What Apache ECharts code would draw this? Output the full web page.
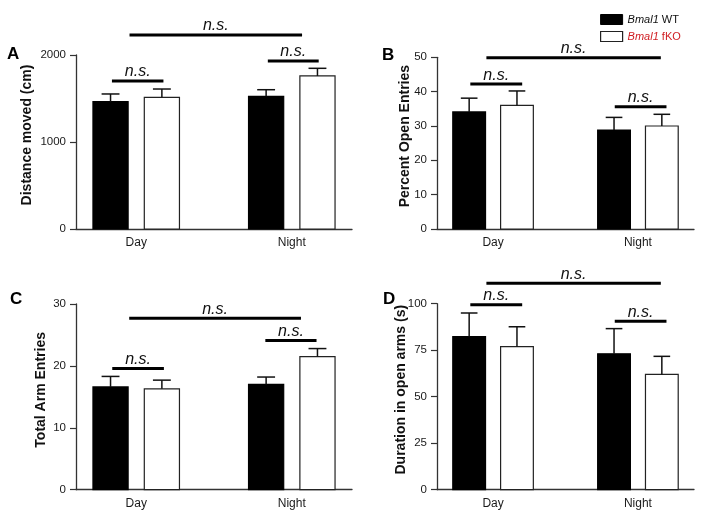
<!DOCTYPE html>
<html>
<head>
<meta charset="utf-8">
<script src="https://cdn.jsdelivr.net/npm/echarts@6/dist/echarts.min.js"></script>
<style>html,body{margin:0;padding:0;background:#fff}#c{width:704px;height:519px}</style>
</head>
<body>
<div id="c"></div>
<script>
// ---------- data ----------
const categories = ['Day', 'Night'];
const seriesNames = ['Bmal1 WT', 'Bmal1 fKO'];
const panelLetters = ['A', 'B', 'C', 'D'];
const axisNames = ['Distance moved (cm)', 'Percent Open Entries', 'Total Arm Entries', 'Duration in open arms (s)'];
const yMax = [2000, 50, 30, 100];
const yInterval = [1000, 10, 10, 25];

const distWT = [1463, 1525], distWTErr = [89, 76];
const distKO = [1514, 1759], distKOErr = [95, 88];
const pctWT = [34.1, 28.8], pctWTErr = [4.0, 3.7];
const pctKO = [36.0, 30.0], pctKOErr = [4.2, 3.4];
const armWT = [16.6, 17.0], armWTErr = [1.7, 1.2];
const armKO = [16.3, 21.5], armKOErr = [1.4, 1.3];
const durWT = [82.3, 73.1], durWTErr = [12.7, 13.5];
const durKO = [76.9, 62.0], durKOErr = [10.7, 9.7];

// significance brackets: [x start, x end, y level] in axis units
const distBrackets = [[-0.156, 0.175, 1701], [0.846, 1.173, 1931], [-0.043, 1.066, 2230]];
const pctBrackets = [[-0.157, 0.201, 42.2], [0.84, 1.197, 35.6], [-0.046, 1.158, 49.9]];
const armBrackets = [[-0.154, 0.178, 19.6], [0.83, 1.159, 24.1], [-0.045, 1.059, 27.7]];
const durBrackets = [[-0.157, 0.201, 99.5], [0.84, 1.197, 90.5], [-0.046, 1.158, 111]];
const bracketLabel = 'n.s.';

const panels = [
  {wt: distWT, wtErr: distWTErr, ko: distKO, koErr: distKOErr, br: distBrackets},
  {wt: pctWT, wtErr: pctWTErr, ko: pctKO, koErr: pctKOErr, br: pctBrackets},
  {wt: armWT, wtErr: armWTErr, ko: armKO, koErr: armKOErr, br: armBrackets},
  {wt: durWT, wtErr: durWTErr, ko: durKO, koErr: durKOErr, br: durBrackets}
];

// ---------- layout / style ----------
const FONT = 'Liberation Sans, Arial, Helvetica, sans-serif';
const grids = [
  {left: 76, top: 55, width: 276, height: 174},
  {left: 437, top: 57.3, width: 257, height: 171.7},
  {left: 76, top: 304, width: 276, height: 185.7},
  {left: 437, top: 303.7, width: 257, height: 186}
];
const nameGaps = [42, 25, 28, 29];
const letterPos = [[7, 46], [382, 47], [10, 291], [383, 291]];
const X_MIN = -0.387, X_MAX = 1.387;
const BAR_W = 0.226, BAR_OFF = 0.165, CAP_W = 0.115;
const RED = '#d01f24';

const chart = echarts.init(document.getElementById('c'), null, {renderer: 'canvas'});

const option = {
  backgroundColor: '#fff',
  animation: false,
  textStyle: {fontFamily: FONT},
  title: panelLetters.map((t, i) => ({
    text: t, left: letterPos[i][0], top: letterPos[i][1], padding: 0,
    textStyle: {fontSize: 17, fontWeight: 'bold', color: '#000', fontFamily: FONT}
  })),
  legend: {
    orient: 'vertical', left: 595, top: 8, itemWidth: 22, itemHeight: 10, itemGap: 4,
    icon: 'rect',
    data: [
      {name: seriesNames[0], itemStyle: {color: '#000', borderColor: '#000', borderWidth: 1}},
      {name: seriesNames[1], itemStyle: {color: '#fff', borderColor: '#222', borderWidth: 1.2}}
    ],
    formatter: n => n === seriesNames[0] ? '{i|Bmal1} WT' : '{ri|Bmal1}{r| fKO}',
    textStyle: {
      fontSize: 11, color: '#111', fontFamily: FONT, lineHeight: 13,
      rich: {
        i: {fontStyle: 'italic', fontSize: 11, color: '#111', fontFamily: FONT},
        ri: {fontStyle: 'italic', fontSize: 11, color: RED, fontFamily: FONT},
        r: {fontSize: 11, color: RED, fontFamily: FONT}
      }
    }
  },
  grid: grids.map(g => Object.assign({containLabel: false}, g)),
  xAxis: grids.map((g, i) => ({
    type: 'value', gridIndex: i, min: X_MIN, max: X_MAX,
    splitLine: {show: false},
    axisLine: {show: true, onZero: false, lineStyle: {color: '#333', width: 1.3}},
    axisTick: {show: false},
    axisLabel: {
      customValues: [0, 1],
      formatter: v => categories[Math.round(v)] || '',
      fontSize: 12, color: '#1a1a1a', margin: 8, fontFamily: FONT
    }
  })),
  yAxis: grids.map((g, i) => ({
    type: 'value', gridIndex: i, min: 0, max: yMax[i], interval: yInterval[i],
    name: axisNames[i], nameLocation: 'middle', nameGap: nameGaps[i], nameMoveOverlap: false,
    nameTextStyle: {fontSize: 14, fontWeight: 'bold', color: '#111', fontFamily: FONT, padding: [0, 0, 0, 14]},
    splitLine: {show: false},
    axisLine: {show: true, onZero: false, lineStyle: {color: '#333', width: 1.3}},
    axisTick: {show: true, length: 6, lineStyle: {color: '#333', width: 1.2}},
    axisLabel: {fontSize: 11.5, color: '#1a1a1a', margin: 10, fontFamily: FONT, formatter: v => String(v)}
  })),
  series: []
};

function barSeries(name, idx, values, offset, fill) {
  return {
    type: 'custom', name: name, xAxisIndex: idx, yAxisIndex: idx, clip: false,
    itemStyle: {color: fill, borderColor: '#000', borderWidth: 1},
    encode: {x: 0, y: 1},
    data: values.map((v, i) => [i, v]),
    renderItem: function (params, api) {
      const x = api.value(0) + offset;
      const p0 = api.coord([x - BAR_W / 2, 0]);
      const p1 = api.coord([x + BAR_W / 2, api.value(1)]);
      return {
        type: 'rect',
        shape: {x: p0[0], y: p1[1], width: p1[0] - p0[0], height: p0[1] - p1[1]},
        style: {fill: fill, stroke: fill === '#000' ? '#000' : '#222', lineWidth: 1.2}
      };
    }
  };
}

function errSeries(idx, values, errs, offset) {
  return {
    type: 'custom', xAxisIndex: idx, yAxisIndex: idx, clip: false, silent: true,
    encode: {x: 0, y: [1, 2]},
    data: values.map((v, i) => [i, v, v + errs[i]]),
    z: 3,
    renderItem: function (params, api) {
      const x = api.value(0) + offset;
      const b = api.coord([x, api.value(1)]);
      const t = api.coord([x, api.value(2)]);
      const cl = api.coord([x - CAP_W / 2, api.value(2)]);
      const cr = api.coord([x + CAP_W / 2, api.value(2)]);
      const st = {stroke: '#111', lineWidth: 1.5};
      return {
        type: 'group',
        children: [
          {type: 'line', shape: {x1: b[0], y1: b[1], x2: t[0], y2: t[1]}, style: st},
          {type: 'line', shape: {x1: cl[0], y1: cl[1], x2: cr[0], y2: cr[1]}, style: st}
        ]
      };
    }
  };
}

function bracketSeries(idx, br) {
  return {
    type: 'custom', xAxisIndex: idx, yAxisIndex: idx, clip: false, silent: true,
    encode: {x: [0, 1], y: 2},
    data: br,
    z: 4,
    renderItem: function (params, api) {
      const a = api.coord([api.value(0), api.value(2)]);
      const b = api.coord([api.value(1), api.value(2)]);
      return {
        type: 'group',
        children: [
          {type: 'line', shape: {x1: a[0], y1: a[1], x2: b[0], y2: b[1]}, style: {stroke: '#000', lineWidth: 3}},
          {type: 'text', x: (a[0] + b[0]) / 2, y: a[1] - 1,
           style: {text: bracketLabel, fill: '#111', font: 'italic 16px ' + FONT, textAlign: 'center', textVerticalAlign: 'bottom'}}
        ]
      };
    }
  };
}

panels.forEach((p, i) => {
  option.series.push(barSeries(seriesNames[0], i, p.wt, -BAR_OFF, '#000'));
  option.series.push(barSeries(seriesNames[1], i, p.ko, BAR_OFF, '#fff'));
  option.series.push(errSeries(i, p.wt, p.wtErr, -BAR_OFF));
  option.series.push(errSeries(i, p.ko, p.koErr, BAR_OFF));
  option.series.push(bracketSeries(i, p.br));
});

chart.setOption(option);
</script>
</body>
</html>
